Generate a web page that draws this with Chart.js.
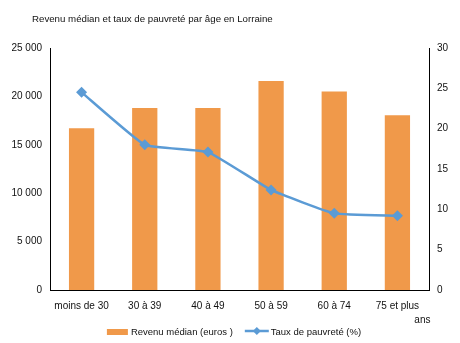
<!DOCTYPE html>
<html lang="fr">
<head>
<meta charset="UTF-8">
<title>Revenu médian et taux de pauvreté par âge en Lorraine</title>
<script src="https://cdn.jsdelivr.net/npm/chart.js"></script>
<style>
  body { margin: 0; background: #fff; font-family: "Liberation Sans", Arial, sans-serif; }
  .wrap { position: relative; width: 460px; height: 343px; overflow: hidden; }
  .titre { position: absolute; left: 32px; top: 13px; font-size: 9.7px; color: #111; white-space: nowrap; }
</style>
</head>
<body>
<div class="wrap">
  <div class="titre">Revenu médian et taux de pauvreté par âge en Lorraine</div>
  <canvas id="chart" width="460" height="343"></canvas>
</div>
<script>
// données
const ages = ['moins de 30', '30 à 39', '40 à 49', '50 à 59', '60 à 74', ['75 et plus', '                  ans']];
const revenuMedian = [16700, 18800, 18800, 21600, 20500, 18050];
const tauxPauvrete = [24.5, 18.0, 17.1, 12.4, 9.5, 9.2];
const ticksRevenu = [0, 5000, 10000, 15000, 20000, 25000];
const ticksTaux = [0, 5, 10, 15, 20, 25, 30];
const legendeTextes = ['Revenu médian (euros )', 'Taux de pauvreté (%)'];

const ORANGE = '#f0994a';
const BLEU = '#5b9bd5';
const FAMILLE = '"Liberation Sans", Arial, sans-serif';
const police = { family: FAMILLE, size: 10 };

function espaces(v) {
  return String(v).replace(/\B(?=(\d{3})+(?!\d))/g, ' ');
}

// légende dessinée à la main (façon Excel)
const legende = {
  id: 'legende',
  afterDraw(chart) {
    const ctx = chart.ctx;
    ctx.save();
    ctx.font = '9.5px ' + FAMILLE;
    ctx.textBaseline = 'middle';
    ctx.fillStyle = '#111';
    const y = 332;
    const w1 = ctx.measureText(legendeTextes[0]).width;
    const w2 = ctx.measureText(legendeTextes[1]).width;
    const total = 21 + 3 + w1 + 12 + 24 + 2 + w2;
    let x = chart.width / 2 + 4 - total / 2;
    // barre
    ctx.fillStyle = ORANGE;
    ctx.fillRect(x, y - 3, 21, 6);
    x += 24;
    ctx.fillStyle = '#111';
    ctx.fillText(legendeTextes[0], x, y);
    x += w1 + 12;
    // ligne + losange
    ctx.strokeStyle = BLEU;
    ctx.lineWidth = 2.5;
    ctx.beginPath(); ctx.moveTo(x, y - 1); ctx.lineTo(x + 24, y - 1); ctx.stroke();
    ctx.fillStyle = BLEU;
    ctx.beginPath();
    ctx.moveTo(x + 12, y - 5); ctx.lineTo(x + 16, y - 1); ctx.lineTo(x + 12, y + 3); ctx.lineTo(x + 8, y - 1);
    ctx.closePath(); ctx.fill();
    x += 26;
    ctx.fillStyle = '#111';
    ctx.fillText(legendeTextes[1], x, y);
    ctx.restore();
  }
};

new Chart(document.getElementById('chart'), {
  type: 'bar',
  data: {
    labels: ages,
    datasets: [
      {
        type: 'bar',
        label: legendeTextes[0],
        data: revenuMedian,
        backgroundColor: ORANGE,
        barPercentage: 0.4,
        categoryPercentage: 1,
        yAxisID: 'y',
        order: 2
      },
      {
        type: 'line',
        label: legendeTextes[1],
        data: tauxPauvrete,
        borderColor: BLEU,
        backgroundColor: BLEU,
        borderWidth: 2.5,
        pointStyle: 'rectRot',
        pointRadius: 5.5,
        pointBorderWidth: 0,
        tension: 0.12,
        yAxisID: 'y1',
        order: 1
      }
    ]
  },
  options: {
    responsive: false,
    animation: false,
    layout: { padding: { top: 48, left: 0, right: 0, bottom: 13 } },
    plugins: {
      tooltip: { enabled: false },
      legend: { display: false }
    },
    scales: {
      x: {
        grid: { display: false, drawTicks: false },
        border: { display: true, color: '#000', width: 1 },
        ticks: { color: '#111', font: { ...police, lineHeight: 1.4 }, padding: 9, maxRotation: 0, autoSkip: false },
        afterFit: s => { s.height = 40; }
      },
      y: {
        position: 'left',
        min: 0, max: 25000,
        grid: { display: false, drawTicks: false },
        border: { display: true, color: '#000', width: 1 },
        ticks: { color: '#111', font: police, padding: 8, callback: v => espaces(v) },
        afterBuildTicks: s => { s.ticks = ticksRevenu.map(v => ({ value: v })); },
        afterFit: s => { s.width = 50; }
      },
      y1: {
        position: 'right',
        min: 0, max: 30,
        grid: { display: false, drawTicks: false },
        border: { display: true, color: '#000', width: 1 },
        ticks: { color: '#111', font: police, padding: 8 },
        afterBuildTicks: s => { s.ticks = ticksTaux.map(v => ({ value: v })); },
        afterFit: s => { s.width = 31; }
      }
    }
  },
  plugins: [legende]
});
</script>
</body>
</html>
